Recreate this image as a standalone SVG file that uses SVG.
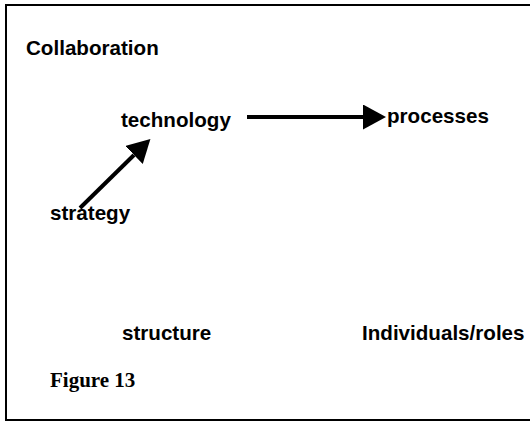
<svg xmlns="http://www.w3.org/2000/svg" width="530" height="423" viewBox="0 0 530 423">
  <style>
    .frame { fill: #ffffff; stroke: #000000; stroke-width: 2; }
    .label { font-family: "Liberation Sans", Arial, Helvetica, sans-serif; font-weight: bold; font-size: 20.6px; fill: #000000; }
    .caption { font-family: "Liberation Serif", "Times New Roman", serif; font-weight: bold; font-size: 21px; fill: #000000; }
    .link { stroke: #000000; stroke-width: 4; fill: none; marker-end: url(#arrow); }
  </style>
  <defs>
    <marker id="arrow" markerUnits="userSpaceOnUse" markerWidth="23" markerHeight="25" viewBox="0 0 23 25" refX="0" refY="12.5" orient="auto">
      <path d="M0,0 L23,12.5 L0,25 Z" fill="#000000"/>
    </marker>
  </defs>

  <!-- outer frame (right edge runs off the page) -->
  <rect class="frame" x="6" y="5" width="540" height="415"/>

  <g id="title">
    <text class="label" x="26" y="54.5">Collaboration</text>
  </g>

  <g id="technology">
    <text class="label" x="121" y="127">technology</text>
  </g>

  <g id="processes">
    <text class="label" x="387" y="122.5">processes</text>
  </g>

  <g id="strategy">
    <text class="label" x="50" y="220">strategy</text>
  </g>

  <g id="structure">
    <text class="label" x="122" y="340">structure</text>
  </g>

  <g id="individuals-roles">
    <text class="label" x="362" y="340">Individuals/roles</text>
  </g>

  <g id="caption">
    <text class="caption" x="50" y="387">Figure 13</text>
  </g>

  <g id="connectors">
    <!-- technology to processes -->
    <line class="link" x1="247" y1="117" x2="363" y2="117"/>
    <!-- strategy to technology -->
    <line class="link" x1="80" y1="208" x2="134" y2="155"/>
  </g>
</svg>
